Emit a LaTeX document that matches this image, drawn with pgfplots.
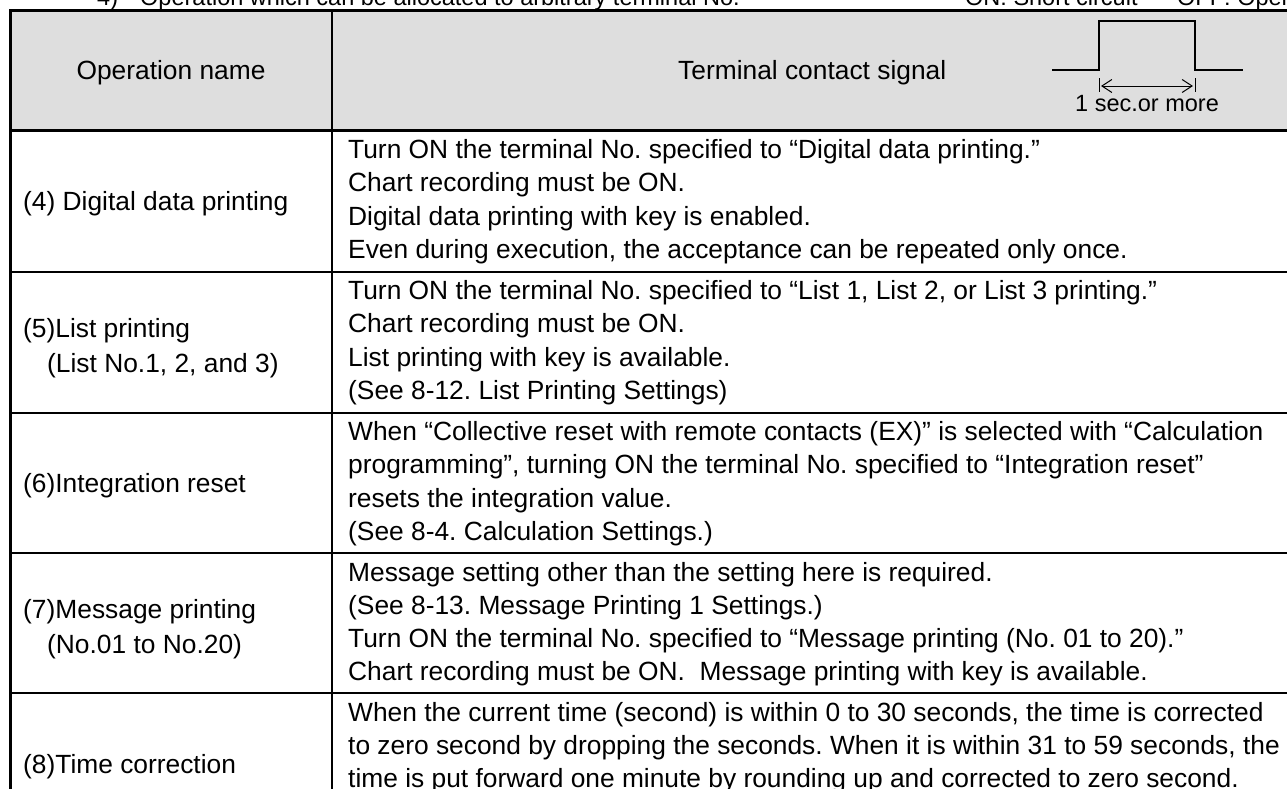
\documentclass[border=0pt]{standalone}
\usepackage{fontspec}
\setmainfont{Liberation Sans}
\usepackage{pgfplots}
\pgfplotsset{compat=1.18}
\usetikzlibrary{arrows.meta}
\definecolor{hdr}{HTML}{DEDEDE}
\frenchspacing
\newcommand\tx{\fontsize{26.35pt}{33pt}\selectfont}
\newcommand\sm{\fontsize{23.5pt}{28pt}\selectfont}
\newcommand\rl[2]{\node[anchor=base west,inner sep=0pt,font=\tx] at (axis cs:348,#1) {#2};}
\newcommand\lft[3]{\node[anchor=base west,inner sep=0pt,font=\tx] at (axis cs:#1,#2) {#3};}
\begin{document}
\begin{tikzpicture}
\begin{axis}[
  width=1287pt, height=789pt, scale only axis,
  xmin=0, xmax=1287, ymin=0, ymax=789, y dir=reverse,
  axis lines=none, ticks=none, clip=false]
% header background
\addplot[fill=hdr, draw=none] coordinates {(10,11) (1310,11) (1310,130) (10,130)} -- cycle;
% table rules
\addplot[black, line width=3pt] coordinates {(9,11) (1310,11)};
\addplot[black, line width=3pt] coordinates {(10.5,9.5) (10.5,840)};
\addplot[black, line width=2.5pt] coordinates {(332,11) (332,840)};
\addplot[black, line width=3pt] coordinates {(10,130) (1310,130)};
\addplot[black, line width=2pt] coordinates {(10,271.5) (1310,271.5)};
\addplot[black, line width=2pt] coordinates {(10,412.5) (1310,412.5)};
\addplot[black, line width=2pt] coordinates {(10,553) (1310,553)};
\addplot[black, line width=2pt] coordinates {(10,693) (1310,693)};
% signal waveform
\addplot[black, line width=2pt, line join=miter] coordinates {(1052,70) (1099,70) (1099,21) (1195,21) (1195,70) (1243,70)};
\addplot[black, line width=1pt] coordinates {(1099,78) (1099,92)};
\addplot[black, line width=1pt] coordinates {(1195,78) (1195,92)};
\addplot[black, line width=1pt, {Straight Barb[length=10pt,width=13pt]}-{Straight Barb[length=10pt,width=13pt]}] coordinates {(1101,86) (1193,86)};
\node[anchor=base,inner sep=0pt,font=\sm] at (axis cs:1147,111) {1 sec.or more};
% cut-off title line
\node[anchor=base west,inner sep=0pt,font=\sm] at (axis cs:97,6) {4)};
\node[anchor=base west,inner sep=0pt,font=\sm] at (axis cs:140,6) {Operation which can be allocated to arbitrary terminal No.};
\node[anchor=base west,inner sep=0pt,font=\sm] at (axis cs:965,6) {ON: Short circuit};
\node[anchor=base west,inner sep=0pt,font=\sm] at (axis cs:1177,6) {OFF: Open};
% header
\node[anchor=base,inner sep=0pt,font=\tx] at (axis cs:171,80) {Operation name};
\lft{678}{80}{Terminal contact signal}
% row 4
\lft{23}{210}{(4) Digital data printing}
\rl{158.5}{Turn ON the terminal No. specified to “Digital data printing.”}
\rl{191.8}{Chart recording must be ON.}
\rl{225.1}{Digital data printing with key is enabled.}
\rl{258.4}{Even during execution, the acceptance can be repeated only once.}
% row 5
\lft{23}{337}{(5)List printing}
\lft{47}{372}{(List No.1, 2, and 3)}
\rl{299.5}{Turn ON the terminal No. specified to “List 1, List 2, or List 3 printing.”}
\rl{332.8}{Chart recording must be ON.}
\rl{366.1}{List printing with key is available.}
\rl{399.4}{(See 8-12. List Printing Settings)}
% row 6
\lft{23}{492}{(6)Integration reset}
\rl{440.5}{When “Collective reset with remote contacts (EX)” is selected with “Calculation}
\rl{473.8}{programming”, turning ON the terminal No. specified to “Integration reset”}
\rl{507.1}{resets the integration value.}
\rl{540.4}{(See 8-4. Calculation Settings.)}
% row 7
\lft{23}{618}{(7)Message printing}
\lft{47}{653}{(No.01 to No.20)}
\rl{581}{Message setting other than the setting here is required.}
\rl{614.3}{(See 8-13. Message Printing 1 Settings.)}
\rl{647.6}{Turn ON the terminal No. specified to “Message printing (No. 01 to 20).”}
\rl{680.9}{Chart recording must be ON.\ \ Message printing with key is available.}
% row 8
\lft{23}{773}{(8)Time correction}
\rl{721}{When the current time (second) is within 0 to 30 seconds, the time is corrected}
\rl{754.3}{to zero second by dropping the seconds. When it is within 31 to 59 seconds, the}
\rl{787.6}{time is put forward one minute by rounding up and corrected to zero second.}
\end{axis}
\pgfresetboundingbox
\path (current axis.south west) rectangle (current axis.north east);
\end{tikzpicture}
\end{document}
